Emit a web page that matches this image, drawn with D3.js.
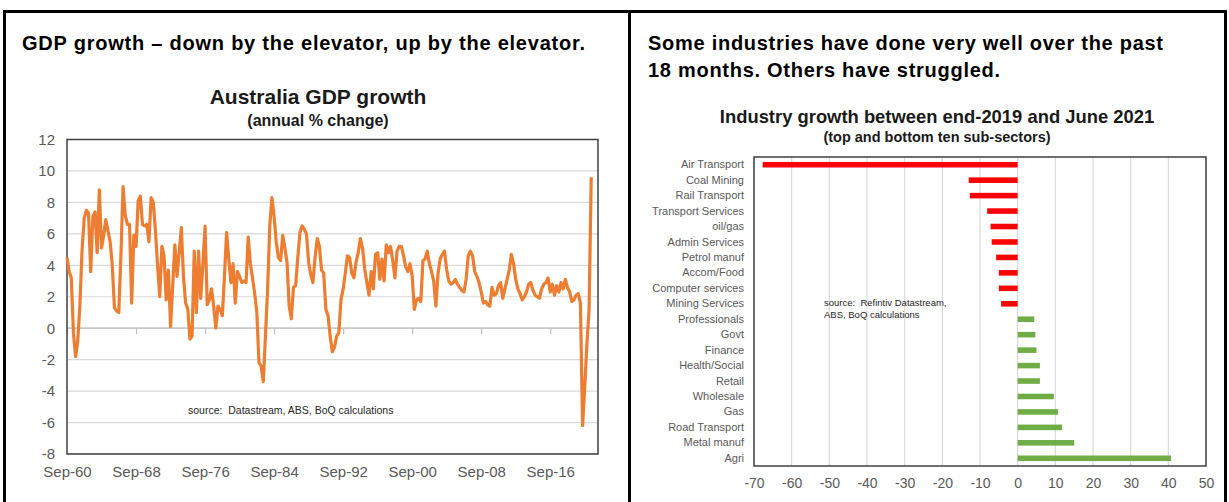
<!DOCTYPE html>
<html><head><meta charset="utf-8">
<script src="https://cdn.jsdelivr.net/npm/d3@7"></script>
<style>
body{margin:0;background:#fff;}
svg{display:block;font-family:Arial,"Liberation Sans",Helvetica,sans-serif;}
</style>
</head><body>
<svg id="c" width="1229" height="502"></svg>
<script>
// ---------- DATA ----------
// Australia GDP growth, annual % change, quarterly from Sep-1960 to Jun-2021
// each row: Sep, Dec, Mar, Jun
const gdpFirstQuarter = [1960, 8]; // year, month index (Sep)
const gdpGrowth = [
  4.5, 3.6, 3.2, -0.3,
  -1.8, -0.8, 1.5, 5.0,
  7.0, 7.5, 7.3, 3.6,
  7.1, 7.4, 4.8, 8.8,
  5.1, 5.9, 6.9, 6.2,
  5.5, 4.0, 1.3, 1.1,
  1.0, 4.6, 9.0, 7.2,
  6.6, 6.6, 1.6, 5.9,
  5.2, 8.1, 8.4, 6.6,
  6.5, 6.6, 5.5, 8.3,
  8.0, 6.2, 4.0, 2.0,
  5.2, 4.6, 1.8, 3.7,
  0.1, 2.7, 5.3, 3.3,
  4.8, 6.4, 3.3, 1.6,
  1.2, -0.7, -0.5, 4.9,
  1.0, 4.9, 1.9, 4.1,
  6.5, 1.5, 1.8, 2.5,
  1.4, 0.0, 1.4, 1.2,
  0.8, 3.3, 6.1, 4.4,
  2.9, 4.1, 1.6, 3.6,
  3.3, 2.9, 3.0, 2.9,
  5.8, 4.1, 3.2, 2.2,
  1.0, -2.2, -2.4, -3.4,
  -0.5, 2.5, 6.5, 8.3,
  7.1, 5.5, 4.5, 4.3,
  5.9, 5.1, 4.2, 1.4,
  0.6, 2.6, 2.7, 4.5,
  6.1, 6.5, 6.3, 6.0,
  4.2, 3.4, 2.9, 4.5,
  5.7, 5.2, 3.7, 3.5,
  1.2, 0.8, -0.5, -1.5,
  -1.2, -0.5, -0.3, 1.8,
  2.5, 3.5, 4.6, 4.5,
  3.5, 3.2, 4.2, 4.8,
  5.7, 5.1, 3.8, 2.9,
  2.1, 3.6, 2.5, 4.7,
  4.8, 3.1, 4.4, 3.0,
  5.3, 4.8, 5.2, 4.3,
  3.2, 4.9, 5.2, 5.2,
  4.6, 3.9, 3.6, 4.1,
  3.3, 1.2, 1.8, 1.9,
  1.7, 4.3, 4.4, 4.9,
  4.1, 3.6, 3.0, 1.4,
  3.5, 4.4, 4.7, 4.9,
  3.7, 3.0, 2.8, 2.9,
  3.1, 2.8, 2.6, 2.4,
  2.3, 3.1, 4.6, 4.9,
  4.6, 3.6, 3.3, 2.9,
  2.3, 1.6, 1.7, 1.5,
  1.4, 2.6, 2.1, 2.2,
  2.7, 2.9, 1.9, 2.5,
  3.1, 3.7, 4.7, 4.1,
  3.1, 2.5, 2.2, 1.8,
  2.0, 2.3, 2.8, 2.9,
  2.4, 2.1, 2.0, 1.9,
  2.5, 2.8, 2.9, 3.2,
  2.3, 2.8, 2.1, 2.7,
  2.3, 2.9, 2.5, 3.1,
  2.6, 2.3, 1.7, 1.8,
  2.1, 2.2, 1.6, -6.2,
  -3.7, -1.0, 1.1, 9.6
];
const gdpTickLabels = ["Sep-60","Sep-68","Sep-76","Sep-84","Sep-92","Sep-00","Sep-08","Sep-16"];
const gdpTickYears = [1960,1968,1976,1984,1992,2000,2008,2016];
const gdpYTicks = [-8,-6,-4,-2,0,2,4,6,8,10,12];

const industries = ["Air Transport","Coal Mining","Rail Transport","Transport Services","oil/gas",
  "Admin Services","Petrol manuf","Accom/Food","Computer services","Mining Services",
  "Professionals","Govt","Finance","Health/Social","Retail","Wholesale","Gas",
  "Road Transport","Metal manuf","Agri"];
const industryGrowth = [-67.7,-13.0,-12.7,-8.1,-7.2,-6.9,-5.7,-5.0,-5.0,-4.4,
  4.4,4.7,5.0,5.9,5.9,9.6,10.7,11.8,15.0,40.7];
const industryXTicks = [-70,-60,-50,-40,-30,-20,-10,0,10,20,30,40,50];

// ---------- DRAW ----------
const svg = d3.select("#c");
const gray = "#595959";
const fmt = d => String(d);

// panel frames
const frame = svg.append("g").attr("fill","none").attr("stroke","#000").attr("stroke-width",3);
frame.append("line").attr("x1",3).attr("x2",1227).attr("y1",11.5).attr("y2",11.5);
frame.append("line").attr("x1",4.5).attr("x2",4.5).attr("y1",10).attr("y2",502);
frame.append("line").attr("x1",629.5).attr("x2",629.5).attr("y1",10).attr("y2",502);
frame.append("line").attr("x1",1225.5).attr("x2",1225.5).attr("y1",10).attr("y2",502);

// headers
function header(x, y, txt, len) {
  svg.append("text").attr("x",x).attr("y",y).attr("font-size",20).attr("font-weight","bold")
    .attr("fill","#000").attr("textLength",len).attr("lengthAdjust","spacing").text(txt);
}
header(22, 50, "GDP growth \u2013 down by the elevator, up by the elevator.", 563);
header(648, 50, "Some industries have done very well over the past", 515);
header(648, 77, "18 months.  Others have struggled.", 352);

// ----- LEFT CHART -----
const L = {l:67, r:598, t:139.5, b:454};
const dates = gdpGrowth.map((v,i)=>{
  const m = gdpFirstQuarter[1] + 3*i;
  return new Date(gdpFirstQuarter[0] + Math.floor(m/12), m%12, 1);
});
const xL = d3.scaleTime().domain([new Date(1960,8,1), new Date(2022,2,15)]).range([L.l, L.r]);
const yL = d3.scaleLinear().domain([-8,12]).range([L.b, L.t]);

svg.append("text").attr("x",318).attr("y",104).attr("text-anchor","middle").attr("font-size",21)
  .attr("font-weight","bold").attr("fill","#1a1a1a").text("Australia GDP growth");
svg.append("text").attr("x",318).attr("y",126).attr("text-anchor","middle").attr("font-size",16)
  .attr("font-weight","bold").attr("fill","#1a1a1a").text("(annual % change)");

// gridlines
svg.append("g").selectAll("line").data(gdpYTicks).join("line")
  .attr("x1",L.l).attr("x2",L.r).attr("y1",d=>yL(d)).attr("y2",d=>yL(d))
  .attr("stroke","#d9d9d9").attr("stroke-width",1.2);

// y axis labels
const yAx = svg.append("g").attr("transform",`translate(${L.l},0)`)
  .call(d3.axisLeft(yL).tickValues(gdpYTicks).tickSize(0).tickPadding(12).tickFormat(fmt));
yAx.select(".domain").remove();
yAx.selectAll("text").attr("font-size",15).attr("fill",gray).attr("font-family","Arial, 'Liberation Sans', sans-serif");

// zero axis with ticks
const tickDates = gdpTickYears.map(y=>new Date(y,8,1));
const zAx = svg.append("g").attr("transform",`translate(0,${yL(0)})`)
  .call(d3.axisBottom(xL).tickValues(tickDates).tickSize(6).tickFormat(""));
zAx.select(".domain").remove();
zAx.selectAll("line").attr("stroke","#bfbfbf").attr("stroke-width",1.2);
svg.append("line").attr("x1",L.l).attr("x2",L.r).attr("y1",yL(0)).attr("y2",yL(0))
  .attr("stroke","#bfbfbf").attr("stroke-width",1.2);

// x labels at bottom
const xAx = svg.append("g").attr("transform",`translate(0,${L.b})`)
  .call(d3.axisBottom(xL).tickValues(tickDates).tickSize(0).tickPadding(12)
  .tickFormat((d,i)=>gdpTickLabels[i]));
xAx.select(".domain").remove();
xAx.selectAll("text").attr("font-size",15).attr("fill",gray).attr("font-family","Arial, 'Liberation Sans', sans-serif");

// plot border
svg.append("rect").attr("x",L.l).attr("y",L.t).attr("width",L.r-L.l).attr("height",L.b-L.t)
  .attr("fill","none").attr("stroke","#404040").attr("stroke-width",1.5);

// line
const line = d3.line().x((d,i)=>xL(dates[i])).y(d=>yL(d)).curve(d3.curveLinear);
svg.append("path").datum(gdpGrowth).attr("d",line).attr("fill","none")
  .attr("stroke","#ED7D31").attr("stroke-width",3.2).attr("stroke-linejoin","round");

svg.append("text").attr("x",188).attr("y",414).attr("font-size",10.5).attr("fill","#262626")
  .attr("xml:space","preserve").text("source:  Datastream, ABS, BoQ calculations");

// ----- RIGHT CHART -----
const R = {l:754, r:1206, t:157, b:466};
svg.append("text").attr("x",937).attr("y",123).attr("text-anchor","middle").attr("font-size",18.4)
  .attr("font-weight","bold").attr("fill","#1a1a1a").text("Industry growth between end-2019 and June 2021");
svg.append("text").attr("x",937).attr("y",142).attr("text-anchor","middle").attr("font-size",14.5)
  .attr("font-weight","bold").attr("fill","#1a1a1a").text("(top and bottom ten sub-sectors)");

const xR = d3.scaleLinear().domain([-70,50]).range([R.l,R.r]);
const yR = d3.scaleBand().domain(industries).range([R.t,R.b]).paddingInner(0.64).paddingOuter(0.32);

svg.append("g").selectAll("line").data(industryXTicks).join("line")
  .attr("x1",d=>xR(d)).attr("x2",d=>xR(d)).attr("y1",R.t).attr("y2",R.b)
  .attr("stroke","#d9d9d9").attr("stroke-width",1.2);

svg.append("g").selectAll("rect").data(industries).join("rect")
  .attr("x",(d,i)=>xR(Math.min(0,industryGrowth[i])))
  .attr("width",(d,i)=>Math.abs(xR(industryGrowth[i])-xR(0)))
  .attr("y",d=>yR(d)).attr("height",yR.bandwidth())
  .attr("fill",(d,i)=>industryGrowth[i]<0?"#FF0000":"#70AD47");

const xRAx = svg.append("g").attr("transform",`translate(0,${R.b})`)
  .call(d3.axisBottom(xR).tickValues(industryXTicks).tickSize(0).tickPadding(12).tickFormat(fmt));
xRAx.select(".domain").remove();
xRAx.selectAll("text").attr("font-size",14).attr("fill",gray).attr("font-family","Arial, 'Liberation Sans', sans-serif");

const yRAx = svg.append("g").attr("transform",`translate(${R.l},0)`)
  .call(d3.axisLeft(yR).tickSize(0).tickPadding(10));
yRAx.select(".domain").remove();
yRAx.selectAll("text").attr("font-size",11).attr("fill",gray).attr("font-family","Arial, 'Liberation Sans', sans-serif");

svg.append("rect").attr("x",R.l).attr("y",R.t).attr("width",R.r-R.l).attr("height",R.b-R.t)
  .attr("fill","none").attr("stroke","#404040").attr("stroke-width",1.5);

svg.append("text").attr("x",824).attr("y",306).attr("font-size",9.5).attr("fill","#262626")
  .attr("xml:space","preserve").text("source:  Refintiv Datastream,");
svg.append("text").attr("x",824).attr("y",318).attr("font-size",9.5).attr("fill","#262626")
  .text("ABS, BoQ calculations");
</script>
</body></html>
